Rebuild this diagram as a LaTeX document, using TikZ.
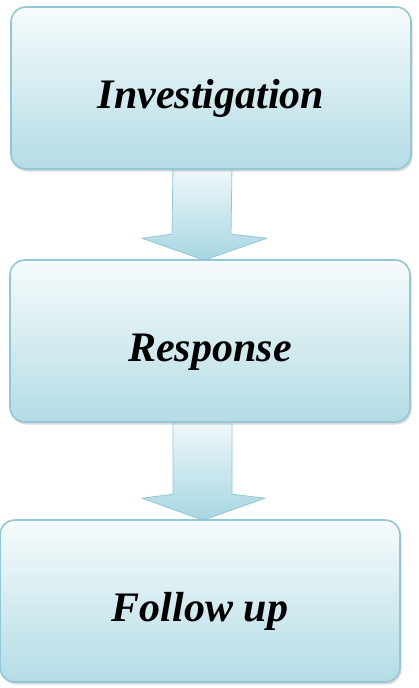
\documentclass[tikz,border=0pt]{standalone}
\usepackage{fontspec}
\setmainfont{Liberation Serif}
\usepackage{xcolor}
\usepackage{tikz}
\usetikzlibrary{calc,backgrounds,shadows}
\definecolor{boxtop}{HTML}{F6FBFC}
\definecolor{boxbot}{HTML}{B4DCE5}
\definecolor{boxedge}{HTML}{92C8D5}
\definecolor{arrtop}{HTML}{F2F9FB}
\definecolor{arrbot}{HTML}{A6D6E1}
\tikzset{
  stagebox/.style  = {rectangle, rounded corners=15pt, draw=boxedge, line width=1.6pt,
                      top color=boxtop, bottom color=boxbot,
                      minimum width=400pt, minimum height=162pt, inner sep=0pt,
                      text height=50pt, text depth=10pt,
                      font=\fontsize{42}{44}\selectfont\bfseries\itshape,
                      drop shadow={shadow xshift=1.5pt, shadow yshift=-2.5pt, opacity=0.3}},
  flowarr/.style   = {draw=boxedge, line width=0.8pt, line join=round,
                      top color=arrtop, bottom color=arrbot},
}

\begin{document}
\begin{tikzpicture}[x=1pt,y=-1pt]
  \useasboundingbox (0,0) rectangle (418,688);

  \node[stagebox] (inv)    at (211,88)  {Investigation};
  \node[stagebox] (resp)   at (210,341) {Response};
  \node[stagebox] (follow) at (200,601) {Follow up};

  \begin{scope}[on background layer]
    \draw[flowarr] ($(inv.south)+(-38,-4)$) -- ($(inv.south)+(21,-4)$)
      -- ($(resp.north)+(21,-25)$) -- ($(resp.north)+(57,-21)$)
      -- ($(resp.north)+(-6,1)$) -- ($(resp.north)+(-68,-21)$)
      -- ($(resp.north)+(-38,-25)$) -- cycle;
    \draw[flowarr] ($(resp.south)+(-37,-4)$) -- ($(resp.south)+(22,-4)$)
      -- ($(follow.north)+(32,-25)$) -- ($(follow.north)+(65,-21)$)
      -- ($(follow.north)+(3,1)$) -- ($(follow.north)+(-58,-21)$)
      -- ($(follow.north)+(-27,-25)$) -- cycle;
  \end{scope}
\end{tikzpicture}
\end{document}
